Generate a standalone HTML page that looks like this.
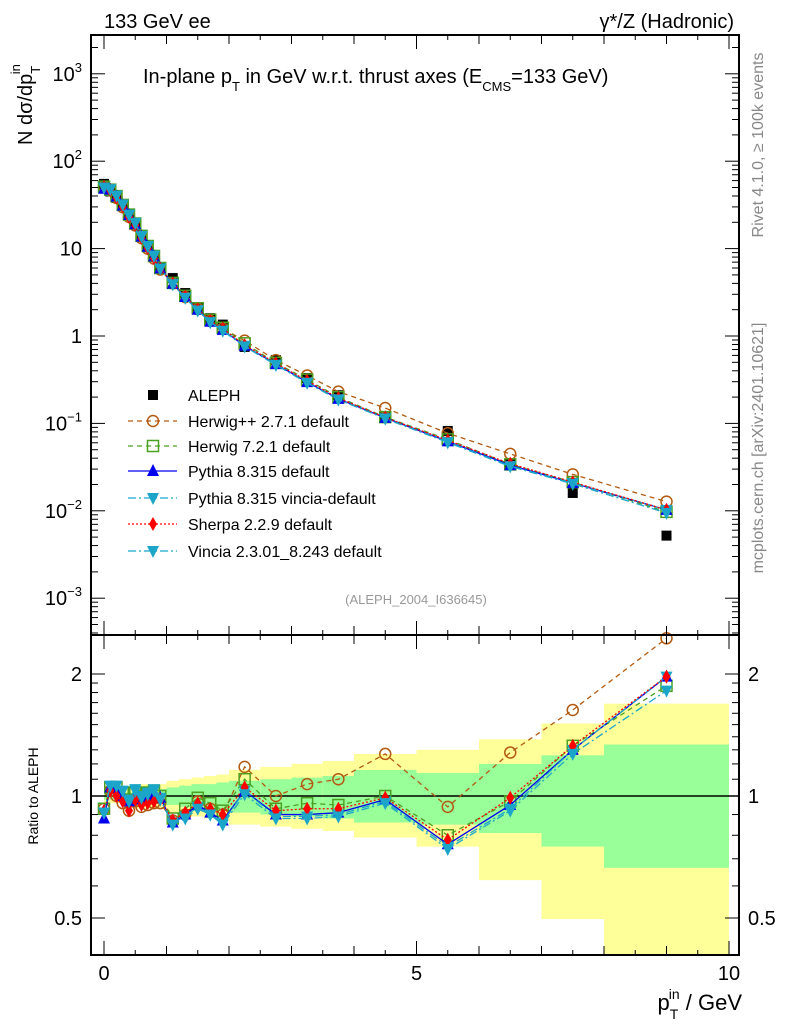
<!DOCTYPE html>
<html><head><meta charset="utf-8"><style>
html,body{margin:0;padding:0;background:#fff;}
svg{display:block;font-family:"Liberation Sans",sans-serif;}
</style></head><body>
<svg id="chart" width="786" height="1024" viewBox="0 0 786 1024" xmlns="http://www.w3.org/2000/svg">
<g id="bands"></g>
<g id="series"></g>
<g id="axes"></g>
<text x="104" y="28" font-size="20">133 GeV ee</text>
<text x="734" y="28" font-size="20" text-anchor="end">γ*/Z (Hadronic)</text>
<text x="143" y="83" font-size="20">In-plane p<tspan dy="8" font-size="13">T</tspan><tspan dy="-8"> in GeV w.r.t. thrust axes (E</tspan><tspan dy="8" font-size="13">CMS</tspan><tspan dy="-8">=133 GeV)</tspan></text>
<text x="416" y="604" font-size="13" fill="#999" text-anchor="middle">(ALEPH_2004_I636645)</text>
<text transform="translate(763,145) rotate(-90)" font-size="16" fill="#888" text-anchor="middle">Rivet 4.1.0, ≥ 100k events</text>
<text transform="translate(763,448) rotate(-90)" font-size="16" fill="#888" text-anchor="middle">mcplots.cern.ch [arXiv:2401.10621]</text>
<text transform="translate(32,145) rotate(-90)" font-size="20">N  dσ/dp<tspan dy="8" font-size="13">T</tspan><tspan dx="-8" dy="-20" font-size="13">in</tspan></text>
<text transform="translate(38,796) rotate(-90)" font-size="14" text-anchor="middle">Ratio to ALEPH</text>
<text x="742" y="1010" font-size="22" text-anchor="end">p<tspan dy="9" font-size="14">T</tspan><tspan dx="-9" dy="-20" font-size="14">in</tspan><tspan dy="11"> / GeV</tspan></text>
<g id="legend"></g>
</svg>
<script>
const xs = [0,0.1,0.2,0.3,0.4,0.5,0.6,0.7,0.8,0.9,1.1,1.3,1.5,1.7,1.9,2.25,2.75,3.25,3.75,4.5,5.5,6.5,7.5,9];
const aleph = [55,45,38,31,25,19,14,10.5,8,6,4.6,3.1,2.1,1.6,1.35,0.75,0.53,0.33,0.21,0.118,0.082,0.035,0.016,0.0052];
const rHerwigPP = [0.93,1.03,1.0,0.96,0.92,0.97,0.94,0.95,0.96,0.96,0.87,0.9,0.97,0.93,0.9,1.18,1.0,1.07,1.1,1.27,0.94,1.28,1.63,2.45];
const rHerwig7 = [0.93,1.05,1.05,1.02,0.98,1.02,1.0,1.02,1.03,1.0,0.88,0.93,0.99,0.96,0.92,1.1,0.93,0.96,0.95,1.0,0.8,0.97,1.33,1.87];
const rPythia = [0.88,1.05,1.04,1.0,0.97,1.0,0.98,1.0,1.02,0.99,0.86,0.9,0.95,0.91,0.87,1.03,0.9,0.9,0.91,0.98,0.76,0.95,1.3,1.97];
const rPyVincia = [0.91,1.06,1.06,1.03,0.98,1.04,1.0,1.02,1.04,0.99,0.86,0.89,0.94,0.9,0.86,1.03,0.89,0.89,0.9,0.97,0.75,0.93,1.3,1.97];
const rSherpa = [0.92,1.03,1.0,0.97,0.92,0.98,0.95,0.96,0.97,0.98,0.87,0.91,0.96,0.93,0.9,1.05,0.92,0.93,0.93,0.99,0.78,0.99,1.33,1.97];
const rVincia = [0.91,1.06,1.06,1.03,0.97,1.03,0.99,1.01,1.03,0.98,0.85,0.88,0.93,0.9,0.85,1.01,0.88,0.88,0.89,0.96,0.74,0.92,1.27,1.82];
const bandEdges = [0,0.5,1,1.2,1.4,1.6,1.8,2,2.5,3,3.5,4,5,6,7,8,10];
const yelUp = [1.04,1.07,1.09,1.10,1.11,1.12,1.13,1.16,1.18,1.2,1.22,1.27,1.3,1.38,1.51,1.69];
const yelDn = [0.96,0.93,0.91,0.9,0.89,0.88,0.87,0.85,0.84,0.83,0.82,0.79,0.75,0.62,0.497,0.3];
const grnUp = [1.02,1.04,1.05,1.06,1.07,1.07,1.08,1.09,1.1,1.11,1.12,1.16,1.14,1.2,1.26,1.34];
const grnDn = [0.98,0.96,0.95,0.94,0.93,0.93,0.92,0.91,0.9,0.89,0.88,0.86,0.85,0.81,0.75,0.665];
const xTickLabels = ["0","5","10"];
const yTickExp = [-3,-2,-1,0,1,2,3];
const ratioTicks = [0.5,1,2];

const NS="http://www.w3.org/2000/svg";
const L=91,R=739,T=35,M=635,B=955;
const X=v=>104+v*62.5;
const Y=v=>336-Math.log10(v)*87.4;
const YR=v=>{v=Math.max(v,0.3);return 796-Math.log2(v)*122;};
function mk(tag,attrs,parent){const e=document.createElementNS(NS,tag);for(const k in attrs)e.setAttribute(k,attrs[k]);parent.appendChild(e);return e;}
const gB=document.getElementById('bands'),gS=document.getElementById('series'),gA=document.getElementById('axes'),gL=document.getElementById('legend');

for(let i=0;i<yelUp.length;i++){
  const x0=X(bandEdges[i]),x1=X(bandEdges[i+1]);
  let r=mk('rect',{x:x0,y:YR(yelUp[i]),width:x1-x0,height:Math.min(YR(yelDn[i]),B)-YR(yelUp[i]),fill:'#ffff99'},gB);
  
  
  r=mk('rect',{x:x0,y:YR(grnUp[i]),width:x1-x0,height:YR(grnDn[i])-YR(grnUp[i]),fill:'#99ff99'},gB);
  
  
}
let ln=mk('line',{x1:L,x2:R,y1:YR(1),y2:YR(1),stroke:'#000','stroke-width':1.5},gB);



function marker(kind,x,y,color,parent,s){
  s=s||6;let e;
  if(kind==='sq') e=mk('rect',{x:x-5,y:y-5,width:10,height:10,fill:'#000'},parent);
  else if(kind==='circ') e=mk('circle',{cx:x,cy:y,r:s-0.5,fill:'none',stroke:color,'stroke-width':1.5},parent);
  else if(kind==='osq') e=mk('rect',{x:x-s+0.5,y:y-s+0.5,width:2*s-1,height:2*s-1,fill:'none',stroke:color,'stroke-width':1.5},parent);
  else if(kind==='up') e=mk('polygon',{points:`${x},${y-s-1} ${x-s},${y+s-1} ${x+s},${y+s-1}`,fill:color},parent);
  else if(kind==='dn') e=mk('polygon',{points:`${x},${y+s+1} ${x-s},${y-s+1} ${x+s},${y-s+1}`,fill:color},parent);
  else if(kind==='dia') e=mk('polygon',{points:`${x},${y-s-1} ${x-s+2},${y} ${x},${y+s+1} ${x+s-2},${y}`,fill:color},parent);
  return e;
}
xs.forEach((x,i)=>{
  const e=marker('sq',X(x),Y(aleph[i]),'#000',gS);
  
  
});
const series=[
 {name:'Herwig++ 2.7.1 default',r:rHerwigPP,c:'#b35a10',m:'circ',d:'5,4'},
 {name:'Herwig 7.2.1 default',r:rHerwig7,c:'#4aa020',m:'osq',d:'5,4'},
 {name:'Pythia 8.315 default',r:rPythia,c:'#0000ee',m:'up',d:''},
 {name:'Pythia 8.315 vincia-default',r:rPyVincia,c:'#1ba6c9',m:'dn',d:'8,3,2,3'},
 {name:'Sherpa 2.2.9 default',r:rSherpa,c:'#ff0000',m:'dia',d:'2,2'},
 {name:'Vincia 2.3.01_8.243 default',r:rVincia,c:'#1ba6c9',m:'dn',d:'8,3,2,3'}
];
series.forEach(s=>{
  const g=mk('g',{},gS);
  
  
  const pm=xs.map((x,i)=>X(x)+','+Y(aleph[i]*s.r[i])).join(' ');
  const pr=xs.map((x,i)=>X(x)+','+YR(s.r[i])).join(' ');
  const a={fill:'none',stroke:s.c,'stroke-width':1.3};if(s.d)a['stroke-dasharray']=s.d;
  let p=mk('polyline',Object.assign({points:pm},a),g);
  
  
  p=mk('polyline',Object.assign({points:pr},a),g);
  
  
  xs.forEach((x,i)=>{
    let e=marker(s.m,X(x),Y(aleph[i]*s.r[i]),s.c,g);
    
    
    e=marker(s.m,X(x),YR(s.r[i]),s.c,g);
    
    
  });
});

[[T,M],[M,B]].forEach(([a,b])=>{
  const r=mk('rect',{x:L,y:a,width:R-L,height:b-a,fill:'none',stroke:'#000','stroke-width':2},gA);
  
  
});
for(let v=0;v<=10.01;v+=0.5){
  const maj=Math.abs(v%5)<1e-6, mid=Math.abs(v%1)<1e-6;
  const len=maj?14:(mid?9:5);
  [[T,1],[M,-1],[M,1],[B,-1]].forEach(([y0,dir])=>{
    const t=mk('line',{x1:X(v),x2:X(v),y1:y0,y2:y0+dir*len,stroke:'#000','stroke-width':1},gA);
    
    
  });
}
xTickLabels.forEach((t,i)=>{
  const e=mk('text',{x:X(i*5),y:980,'font-size':20,'text-anchor':'middle'},gA);e.textContent=t;
  
  
});
for(let e=-4;e<=3;e++){
  for(let k=1;k<10;k++){
    const v=k*Math.pow(10,e);const y=Y(v);if(y<T||y>M)continue;
    const len=k===1?14:7;
    [[L,1],[R,-1]].forEach(([x0,dir])=>{
      const t=mk('line',{x1:x0,x2:x0+dir*len,y1:y,y2:y,stroke:'#000','stroke-width':1},gA);
      
      
    });
  }
}
yTickExp.forEach(e=>{
  const y=Y(Math.pow(10,e))+7;
  const t=mk('text',{x:82,y:y,'font-size':20,'text-anchor':'end'},gA);
  if(e===0) t.textContent='1';
  else if(e===1) t.textContent='10';
  else{t.textContent='10';const s=mk('tspan',{dy:-9,'font-size':13},t);s.textContent=String(e).replace('-','−');}
  
  
});
[0.4,0.5,0.6,0.7,0.8,0.9,1,1.1,1.2,1.3,1.4,1.5,1.6,1.7,1.8,1.9,2].forEach(v=>{
  const y=YR(v);const maj=ratioTicks.includes(v);const len=maj?14:7;
  if(y<M||y>B)return;
  [[L,1],[R,-1]].forEach(([x0,dir])=>{
    const t=mk('line',{x1:x0,x2:x0+dir*len,y1:y,y2:y,stroke:'#000','stroke-width':1},gA);
    
    
  });
});
ratioTicks.forEach(v=>{
  [[82,'end'],[748,'start']].forEach(([x,a])=>{
    const t=mk('text',{x:x,y:YR(v)+7,'font-size':20,'text-anchor':a},gA);t.textContent=String(v);
    
    
  });
});
const rowsY=[395,421,446,471,498,524,551];
const lg=[{name:'ALEPH',m:'sq',c:'#000',d:null}].concat(series);
lg.forEach((s,i)=>{
  const y=rowsY[i];
  const g=mk('g',{},gL);
  
  
  if(s.d!==null){const a={x1:128,x2:177,y1:y,y2:y,stroke:s.c,'stroke-width':1.3};if(s.d)a['stroke-dasharray']=s.d;mk('line',a,g);}
  marker(s.m,153,y,s.c,g);
  const t=mk('text',{x:188,y:y+6,'font-size':16},g);t.textContent=s.name;
});
</script>
</body></html>
